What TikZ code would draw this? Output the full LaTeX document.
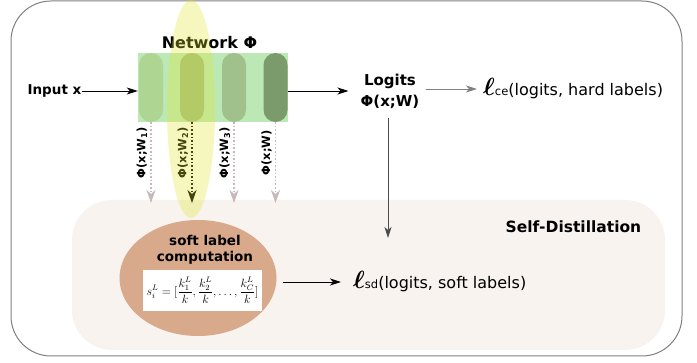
\documentclass[tikz,border=0pt]{standalone}
\usepackage{bm}
\usepackage{fontspec}
\setmainfont{DejaVu Sans}
\usetikzlibrary{arrows.meta,calc,shapes.geometric}
\definecolor{framegray}{RGB}{128,128,128}
\definecolor{sdbg}{RGB}{248,243,239}
\definecolor{netgreen}{RGB}{188,232,182}
\definecolor{lyrA}{RGB}{174,213,146}
\definecolor{lyrB}{RGB}{162,190,131}
\definecolor{lyrC}{RGB}{160,192,140}
\definecolor{lyrD}{RGB}{124,155,108}
\definecolor{hlyellow}{RGB}{222,230,40}
\definecolor{slbrown}{RGB}{216,169,138}
\definecolor{dotgray}{RGB}{200,184,186}
\newcommand{\lossl}{{\fontsize{23}{23}\selectfont$\bm{\ell}$}}

\begin{document}
\begin{tikzpicture}[x=1pt,y=-1pt,
  pill/.style={rounded corners=12,minimum width=24,minimum height=69,inner sep=0},
  lbl/.style={font=\bfseries\fontsize{11.5}{13}\selectfont,rotate=90,inner sep=3,anchor=south},
  dotarr/.style={draw=dotgray,dotted,line width=1.6,-{Stealth[length=13,width=9,inset=4]}},
  blk/.style={-{Stealth[length=11,width=7,inset=3]}},
  every node/.style={inner sep=0}]
\useasboundingbox(0,0)rectangle(697,363);
% frame and self-distillation area
\draw[framegray,line width=1pt,rounded corners=40](11,1)rectangle(682,356);
\fill[sdbg,rounded corners=40](72,200)rectangle(665,350);
\node[font=\bfseries\fontsize{15.5}{18}\selectfont](sdt)at(573.5,227){Self-Distillation};
% network with its four layers
\node[fill=netgreen,minimum width=150,minimum height=69](net)at(213,87.5){};
\node[font=\bfseries\fontsize{16}{19}\selectfont](nt)at(209.5,43){Network Φ};
\node[pill,fill=lyrA](l1)at(151,87.5){};\node[pill,fill=lyrB](l2)at(192,87.5){};
\node[pill,fill=lyrC](l3)at(234,87.5){};\node[pill,fill=lyrD](l4)at(275.5,87.5){};
\coordinate(t1)at(151,203);\coordinate(t2)at(192,203);\coordinate(t3)at(234,203);\coordinate(t4)at(275.5,203);
\draw[dotarr](l1.south)--(t1)node[lbl,pos=.38]{Φ(x;W\textsubscript{1})};
\draw[dotarr,draw=black](l2.south)--(t2)node[lbl,pos=.38]{Φ(x;W\textsubscript{2})};
\draw[dotarr](l3.south)--(t3)node[lbl,pos=.38]{Φ(x;W\textsubscript{3})};
\draw[dotarr](l4.south)--(t4)node[lbl,pos=.38]{Φ(x;W)};
% input, logits and the two losses
\node[font=\bfseries\fontsize{13.5}{16}\selectfont](in)at(54.5,91){Input x};
\draw[blk,line width=.9](in)--(in-|net.west);
\node[font=\bfseries\fontsize{15}{21}\selectfont,align=center](lg)at(390,91){Logits\\Φ(x;W)};
\draw[blk,line width=.9,shorten >=12](net.east|-in)--(lg);
\node[anchor=west,font=\fontsize{16}{19}\selectfont](ce)at(483,89){\lossl{\fontsize{11.5}{12}\selectfont ce}(logits, hard labels)};
\draw[blk,framegray,line width=.9,shorten <=6,shorten >=6](lg.east|-ce)--(ce);
\coordinate(v)at(388,238);
\draw[blk,black!70,line width=.9,shorten <=10](lg.south-|v)--(v);
% soft label computation
\node[ellipse,fill=slbrown,minimum width=157,minimum height=116](sl)at(198,278){};
\node[font=\bfseries\fontsize{13.5}{15.5}\selectfont,align=center](slt)at(205,250){soft label\\computation};
\node[fill=white,minimum width=119,minimum height=41](fm)at(202.5,290.5){\fontsize{11.5}{13}\selectfont$\displaystyle s_i^L=[\frac{k_1^L}{k},\frac{k_2^L}{k},\ldots,\frac{k_C^L}{k}]$};
\node[anchor=west,font=\fontsize{16}{19}\selectfont](sd)at(353,282){\lossl{\fontsize{11.5}{12}\selectfont sd}(logits, soft labels)};
\draw[blk,line width=.9,shorten <=6,shorten >=12](sl.east|-sd)--(sd);
% highlight over the second layer
\fill[hlyellow,opacity=.3](191,109)ellipse(24 and 109);
\end{tikzpicture}
\end{document}
